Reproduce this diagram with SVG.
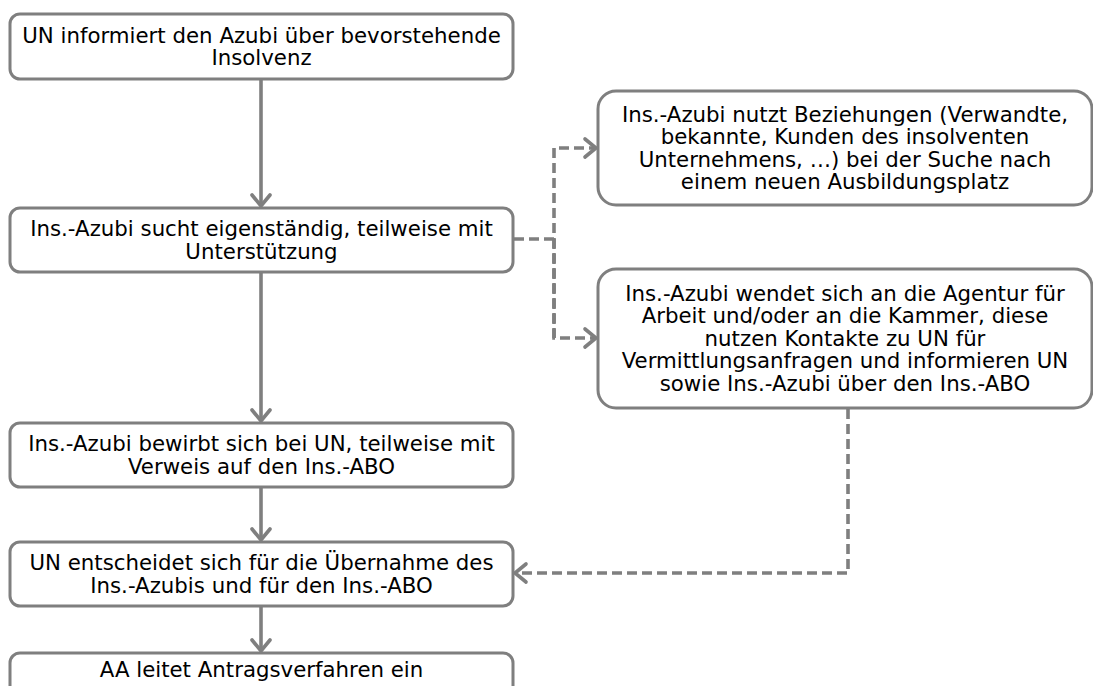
<svg xmlns="http://www.w3.org/2000/svg" width="1093" height="686" viewBox="0 0 1093 686">
<defs>
<style>
.box{fill:#fff;stroke:#7f7f7f;stroke-width:3}
.t{font-family:"DejaVu Sans",Verdana,sans-serif;font-size:21.3px;fill:#000;text-anchor:middle}
.c{fill:none;stroke:#7f7f7f;stroke-width:3.6}
.d{stroke-dasharray:10 5}
</style>
<marker id="ah" markerUnits="userSpaceOnUse" markerWidth="30" markerHeight="30" refX="15" refY="15" orient="auto" viewBox="0 0 30 30">
<path d="M4,6 L15,15 L4,24" fill="none" stroke="#7f7f7f" stroke-width="3.6" stroke-linecap="round" stroke-linejoin="miter"/>
</marker>
</defs>
<rect width="1093" height="686" fill="#fff"/>
<g id="connectors">
<path class="c" d="M261,79 V206" marker-end="url(#ah)"/>
<path class="c" d="M261,272 V421" marker-end="url(#ah)"/>
<path class="c" d="M261,487 V540" marker-end="url(#ah)"/>
<path class="c" d="M261,606 V651" marker-end="url(#ah)"/>
<path class="c d" d="M514,239 H554"/>
<path class="c d" d="M554,338 V148 H596" marker-end="url(#ah)"/>
<path class="c d" d="M554,239 V338 H596" marker-end="url(#ah)"/>
<path class="c d" d="M848,409 V573 H515" marker-end="url(#ah)"/>
</g>
<g id="n1"><rect class="box" x="10" y="14" width="503" height="65" rx="10"/>
<text class="t" x="261.5" y="42.5">UN informiert den Azubi über bevorstehende</text>
<text class="t" x="261.5" y="65">Insolvenz</text></g>
<g id="n2"><rect class="box" x="10" y="208" width="503" height="64" rx="10"/>
<text class="t" x="261.5" y="236">Ins.-Azubi sucht eigenständig, teilweise mit</text>
<text class="t" x="261.5" y="258.5">Unterstützung</text></g>
<g id="n3"><rect class="box" x="598" y="91" width="494" height="114" rx="18"/>
<text class="t" x="845" y="121.5">Ins.-Azubi nutzt Beziehungen (Verwandte,</text>
<text class="t" x="845" y="144">bekannte, Kunden des insolventen</text>
<text class="t" x="845" y="166.5">Unternehmens, …) bei der Suche nach</text>
<text class="t" x="845" y="189">einem neuen Ausbildungsplatz</text></g>
<g id="n4"><rect class="box" x="598" y="269" width="494" height="139" rx="18"/>
<text class="t" x="845" y="300.8">Ins.-Azubi wendet sich an die Agentur für</text>
<text class="t" x="845" y="323.3">Arbeit und/oder an die Kammer, diese</text>
<text class="t" x="845" y="345.8">nutzen Kontakte zu UN für</text>
<text class="t" x="845" y="368.3">Vermittlungsanfragen und informieren UN</text>
<text class="t" x="845" y="390.8">sowie Ins.-Azubi über den Ins.-ABO</text></g>
<g id="n5"><rect class="box" x="10" y="423" width="503" height="64" rx="10"/>
<text class="t" x="261.5" y="451">Ins.-Azubi bewirbt sich bei UN, teilweise mit</text>
<text class="t" x="261.5" y="473.5">Verweis auf den Ins.-ABO</text></g>
<g id="n6"><rect class="box" x="10" y="542" width="503" height="64" rx="10"/>
<text class="t" x="261.5" y="570">UN entscheidet sich für die Übernahme des</text>
<text class="t" x="261.5" y="592.5">Ins.-Azubis und für den Ins.-ABO</text></g>
<g id="n7"><rect class="box" x="10" y="653" width="503" height="64" rx="10"/>
<text class="t" x="261.5" y="676.5">AA leitet Antragsverfahren ein</text></g>
</svg>
